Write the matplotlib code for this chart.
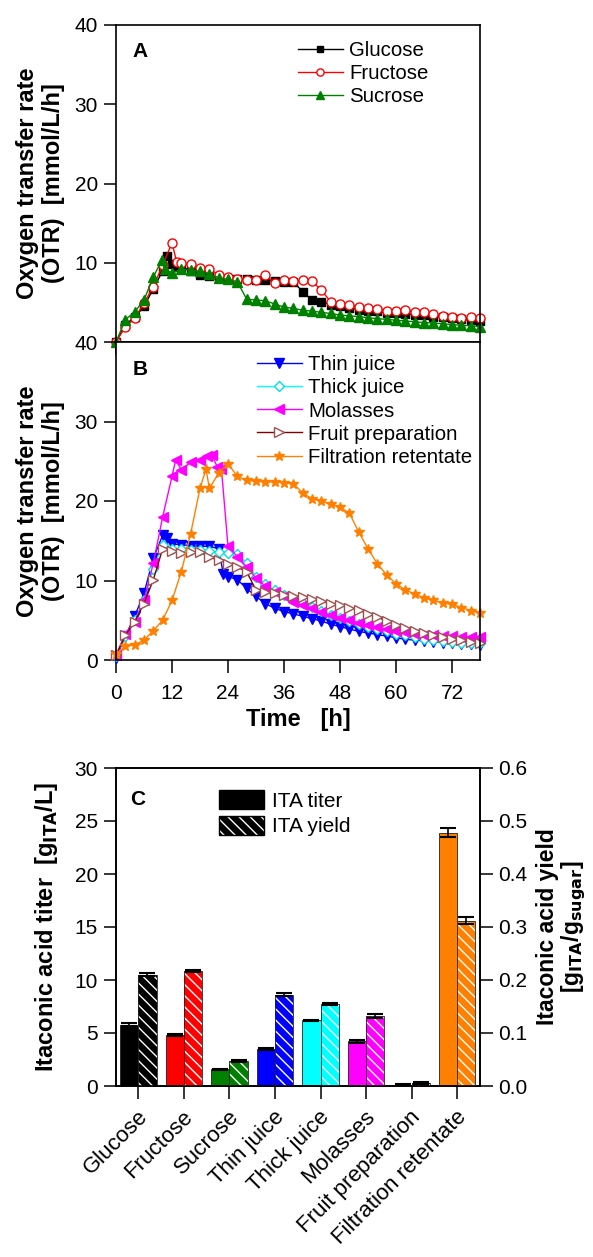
import numpy as np
import matplotlib
matplotlib.use("Agg")
import matplotlib.pyplot as plt
import matplotlib.transforms as mtransforms
from matplotlib.patches import Patch

plt.rcParams['font.family'] = ['Liberation Sans', 'DejaVu Sans']
plt.rcParams['hatch.linewidth'] = 1.0

# ----------------------------
# Panel A data (OTR, mmol/L/h)
# ----------------------------
t_glu = [0, 2, 4, 6, 8, 10, 11, 12, 13, 14, 16, 18, 20, 22, 24, 26, 28, 30, 32, 34, 36, 38,
         40, 42, 44, 46, 48, 50, 52, 54, 56, 58, 60, 62, 64, 66, 68, 70, 72, 74, 76, 78]
otr_glu = [0, 2.2, 3.1, 4.5, 6.7, 9.0, 10.8, 9.8, 9.5, 9.5, 9.0, 8.5, 8.3, 8.1, 8.0, 7.9, 7.9, 7.8,
           7.8, 7.7, 7.6, 7.6, 6.35, 5.3, 5.1, 4.7, 4.5, 4.3, 4.1, 3.95, 3.85, 3.7, 3.6, 3.5, 3.45,
           3.35, 3.2, 3.1, 3.0, 2.85, 2.75, 2.7]

t_fru = [0, 2, 4, 6, 8, 10, 12, 13, 14, 16, 18, 20, 22, 24, 26, 28, 30, 32, 34, 36, 38, 40,
         42, 44, 46, 48, 50, 52, 54, 56, 58, 60, 62, 64, 66, 68, 70, 72, 74, 76, 78]
otr_fru = [0, 1.9, 3.0, 4.9, 7.0, 9.7, 12.5, 10.1, 10.0, 9.8, 9.4, 9.2, 8.5, 8.2, 8.0, 7.8, 7.8,
           8.4, 7.5, 7.8, 7.7, 7.8, 7.7, 6.5, 5.1, 4.8, 4.67, 4.46, 4.25, 4.2, 3.97, 3.97, 4.04,
           3.83, 3.75, 3.49, 3.28, 3.2, 3.0, 3.1, 3.0]

t_suc = [0, 2, 4, 6, 8, 9.8, 10.4, 12, 14, 16, 18, 20, 22, 24, 26, 28, 30, 32, 34, 36, 38, 40,
         42, 44, 46, 48, 50, 52, 54, 56, 58, 60, 62, 64, 66, 68, 70, 72, 74, 76, 78]
otr_suc = [0, 2.8, 3.8, 5.3, 8.2, 10.3, 9.2, 8.7, 9.2, 9.1, 8.9, 8.6, 8.1, 7.9, 7.6, 5.4, 5.3,
           5.2, 4.8, 4.4, 4.25, 4.0, 3.9, 3.74, 3.6, 3.4, 3.3, 3.2, 3.05, 2.95, 2.85, 2.75, 2.65,
           2.55, 2.45, 2.4, 2.3, 2.2, 2.1, 2.05, 1.95]

# ----------------------------
# Panel B data (OTR, mmol/L/h)
# ----------------------------
t_thin = [0, 2, 4, 6, 8, 10, 11, 12, 14, 16, 18, 20, 22, 23, 24, 26, 28, 30, 32, 34, 36, 38,
          40, 42, 44, 46, 48, 50, 52, 54, 56, 58, 60, 62, 64, 66, 68, 70, 72, 74, 76, 78]
otr_thin = [0.2, 3.0, 5.5, 8.4, 12.8, 15.7, 15.3, 14.6, 14.5, 14.4, 14.3, 14.3, 14.0, 10.8, 10.5,
            10.1, 9.0, 8.0, 7.1, 6.5, 6.1, 5.8, 5.5, 5.2, 4.9, 4.5, 4.2, 3.9, 3.6, 3.4, 3.2, 3.0,
            2.8, 2.6, 2.5, 2.4, 2.3, 2.2, 2.1, 2.0, 2.0, 1.9]

t_thick = [0, 2, 4, 6, 8, 10, 12, 14, 16, 18, 20, 22, 24, 26, 28, 30, 32, 34, 36, 38,
           40, 42, 44, 46, 48, 50, 52, 54, 56, 58, 60, 62, 64, 66, 68, 70, 72, 74, 76, 78]
otr_thick = [0.5, 3.0, 5.0, 7.5, 11.5, 14.5, 14.0, 13.9, 13.8, 13.8, 13.7, 13.6, 13.5, 13.3,
             12.2, 10.5, 9.5, 8.8, 8.2, 7.7, 7.2, 6.7, 6.2, 5.7, 5.3, 4.9, 4.5, 4.2, 3.9, 3.6,
             3.3, 3.1, 2.9, 2.7, 2.5, 2.4, 2.3, 2.2, 2.2, 2.1]

t_mol = [0, 2, 4, 6, 8, 10, 12, 12.8, 14, 16, 18, 19.4, 20.5, 21.7, 22.6, 24, 26, 28, 30, 32,
         34, 36, 38, 40, 42, 44, 46, 48, 50, 52, 54, 56, 58, 60, 62, 64, 66, 68, 70, 72, 74, 76, 78]
otr_mol = [0.6, 3.3, 4.8, 7.5, 12.2, 18.0, 23.1, 25.2, 23.9, 24.9, 25.2, 25.6, 25.8, 24.3, 24.0,
           14.3, 13.0, 11.7, 10.3, 9.3, 8.6, 8.0, 7.3, 6.9, 6.5, 6.0, 5.6, 5.3, 5.0, 4.7, 4.4,
           4.1, 3.9, 3.7, 3.5, 3.3, 3.2, 3.1, 3.0, 3.0, 2.9, 2.9, 2.9]

t_fruit = [0, 2, 4, 6, 8, 10, 12, 14, 16, 18, 20, 22, 24, 26, 28, 30, 32, 34, 36, 38,
           40, 42, 44, 46, 48, 50, 52, 54, 56, 58, 60, 62, 64, 66, 68, 70, 72, 74, 76, 78]
otr_fruit = [0.6, 3.1, 4.8, 7.1, 10.1, 14.0, 13.7, 13.4, 13.6, 13.6, 12.9, 12.6, 12.1, 11.7,
             11.1, 8.8, 8.5, 8.4, 8.2, 8.1, 7.9, 7.7, 7.4, 7.1, 6.9, 6.6, 6.3, 5.8, 5.4, 4.9,
             4.4, 4.0, 3.7, 3.4, 3.1, 2.9, 2.7, 2.5, 2.3, 2.2]

t_filt = [0, 2, 4, 6, 8, 10, 12, 14, 16, 18, 19.3, 20, 22, 24, 26, 28, 30, 32, 34, 36, 38,
          40, 42, 44, 46, 48, 50, 52, 54, 56, 58, 60, 62, 64, 66, 68, 70, 72, 74, 76, 78]
otr_filt = [0.8, 1.7, 1.9, 2.5, 3.7, 5.0, 7.5, 11.1, 15.9, 21.6, 24.0, 21.6, 23.5, 24.7, 23.1,
            22.6, 22.5, 22.4, 22.4, 22.3, 22.2, 21.0, 20.3, 20.0, 19.6, 19.2, 18.5, 16.1, 14.0,
            12.1, 10.7, 9.6, 8.8, 8.3, 7.8, 7.5, 7.2, 7.0, 6.6, 6.2, 5.9]

# ----------------------------
# Panel C data
# ----------------------------
substrates = ["Glucose", "Fructose", "Sucrose", "Thin juice", "Thick juice",
              "Molasses", "Fruit preparation", "Filtration retentate"]
bar_colors = ["#000000", "#ff0000", "#008000", "#0000ff", "#00ffff",
              "#ff00ff", "#800000", "#ff8000"]
ita_titer = [5.8, 4.8, 1.6, 3.5, 6.2, 4.2, 0.1, 23.9]
ita_titer_err = [0.1, 0.1, 0.05, 0.1, 0.05, 0.1, 0.05, 0.4]
ita_yield = [0.21, 0.217, 0.047, 0.172, 0.154, 0.132, 0.006, 0.312]
ita_yield_err = [0.003, 0.002, 0.002, 0.003, 0.002, 0.004, 0.002, 0.007]

# ----------------------------
# Figure
# ----------------------------
fig = plt.figure(figsize=(5.93, 12.57), dpi=100)

W, H = 593.0, 1257.0


def frac(x0, y0, x1, y1):
    return [x0 / W, 1 - y1 / H, (x1 - x0) / W, (y1 - y0) / H]


axA = fig.add_axes(frac(116, 25, 480, 342))
axB = fig.add_axes(frac(116, 342, 480, 660))
axC = fig.add_axes(frac(116, 768, 480, 1086))

tick_fs = 15
leg_fs = 14.7
label_fs = 17
lw = 1.0
ms = 5.5

for ax in (axA, axB, axC):
    for sp in ax.spines.values():
        sp.set_linewidth(1.2)
    ax.tick_params(direction="out", length=9, width=1.1, labelsize=tick_fs, pad=4)

# ----------------------------
# Panel A
# ----------------------------
axA.plot(t_glu, otr_glu, color="black", lw=lw, marker="s", ms=ms,
         mfc="black", mec="black", label="Glucose", clip_on=False)
axA.plot(t_fru, otr_fru, color="red", lw=lw, marker="o", ms=ms + 1,
         mfc="white", mec="red", label="Fructose", clip_on=False)
axA.plot(t_suc, otr_suc, color="#008000", lw=lw, marker="^", ms=ms + 1,
         mfc="#008000", mec="#008000", label="Sucrose", clip_on=False)

axA.set_xlim(0, 78)
axA.set_ylim(0, 40)
axA.set_xticks([0, 12, 24, 36, 48, 60, 72])
axA.set_yticks([10, 20, 30, 40])
axA.tick_params(axis="x", labelbottom=False)
axA.text(0.045, 0.915, "A", transform=axA.transAxes, fontsize=15,
         fontweight="bold", va="center")
axA.legend(loc="upper left", bbox_to_anchor=(0.5, 0.95), frameon=False,
           fontsize=leg_fs, handlelength=2.2, handletextpad=0.3,
           labelspacing=0.2, borderaxespad=0, borderpad=0, markerscale=0.8)
axA.set_ylabel("Oxygen transfer rate\n(OTR)  [mmol/L/h]", fontsize=label_fs,
               fontweight="bold", linespacing=1.15)
axA.yaxis.set_label_coords(-0.14, 0.5)

# ----------------------------
# Panel B
# ----------------------------
axB.plot(t_thin, otr_thin, color="#0000ff", lw=lw, marker="v", ms=ms + 1,
         mfc="#0000ff", mec="#0000ff", label="Thin juice", clip_on=False)
axB.plot(t_thick, otr_thick, color="#00ffff", lw=lw, marker="D", ms=ms - 0.5,
         mfc="white", mec="#00e0e0", label="Thick juice", clip_on=False)
axB.plot(t_mol, otr_mol, color="#ff00ff", lw=lw, marker="<", ms=ms + 1,
         mfc="#ff00ff", mec="#ff00ff", label="Molasses", clip_on=False)
axB.plot(t_fruit, otr_fruit, color="#800000", lw=lw, marker=">", ms=ms + 1.5,
         mfc="white", mec="#a05050", label="Fruit preparation", clip_on=False)
axB.plot(t_filt, otr_filt, color="#ff8000", lw=lw, marker="*", ms=ms + 2,
         mfc="#ff8000", mec="#ff8000", label="Filtration retentate", clip_on=False)

axB.set_xlim(0, 78)
axB.set_ylim(0, 40)
axB.set_xticks([0, 12, 24, 36, 48, 60, 72])
axB.set_yticks([0, 10, 20, 30, 40])
axB.tick_params(axis="x", pad=8)
axB.text(0.045, 0.915, "B", transform=axB.transAxes, fontsize=15,
         fontweight="bold", va="center")
axB.legend(loc="upper left", bbox_to_anchor=(0.387, 0.958), frameon=False,
           fontsize=leg_fs, handlelength=2.2, handletextpad=0.3,
           labelspacing=0.2, borderaxespad=0, borderpad=0)
axB.set_ylabel("Oxygen transfer rate\n(OTR)  [mmol/L/h]", fontsize=label_fs,
               fontweight="bold", linespacing=1.15)
axB.yaxis.set_label_coords(-0.14, 0.5)
axB.set_xlabel("Time   [h]", fontsize=label_fs, fontweight="bold")
axB.xaxis.set_label_coords(0.5, -0.152)
axB.xaxis.label.set_va("top")

# ----------------------------
# Panel C
# ----------------------------
x = np.arange(len(substrates))
bw = 0.4

axC.bar(x - bw / 2, ita_titer, width=bw, color=bar_colors, edgecolor="#202020",
        linewidth=0.6, zorder=2)
axC.errorbar(x - bw / 2, ita_titer, yerr=ita_titer_err, fmt="none", ecolor="black",
             elinewidth=1.2, capsize=6, capthick=1.5, zorder=3)

axC2 = axC.twinx()
axC2.bar(x + bw / 2, ita_yield, width=bw, color=bar_colors, edgecolor="white",
         linewidth=0, hatch="\\\\\\", zorder=2)
axC2.bar(x + bw / 2, ita_yield, width=bw, fill=False, edgecolor="#202020",
         linewidth=0.6, zorder=3)
axC2.errorbar(x + bw / 2, ita_yield, yerr=ita_yield_err, fmt="none", ecolor="black",
              elinewidth=1.2, capsize=6, capthick=1.5, zorder=4)

axC.set_xlim(-0.49, 7.5)
axC.set_ylim(0, 30)
axC.set_yticks([0, 5, 10, 15, 20, 25, 30])
axC2.set_ylim(0, 0.6)
axC2.set_yticks([0.0, 0.1, 0.2, 0.3, 0.4, 0.5, 0.6])
axC2.set_yticklabels(["0.0", "0.1", "0.2", "0.3", "0.4", "0.5", "0.6"])
for sp in axC2.spines.values():
    sp.set_linewidth(1.2)
axC2.tick_params(direction="out", length=9, width=1.1, labelsize=tick_fs, pad=4)

axC.set_xticks(x)
axC.set_xticklabels(substrates, rotation=45, ha="right", va="center",
                    rotation_mode="anchor", fontsize=16)
axC.tick_params(axis="x", pad=11)
shift = mtransforms.ScaledTranslation(6 / 100, 0, fig.dpi_scale_trans)
for lab in axC.get_xticklabels():
    lab.set_transform(lab.get_transform() + shift)

axC.text(0.04, 0.9, "C", transform=axC.transAxes, fontsize=15,
         fontweight="bold", va="center")

titer_handle = Patch(facecolor="black", edgecolor="black")
yield_handle = (Patch(facecolor="black", edgecolor="white", hatch="\\\\\\", linewidth=0),
                Patch(fill=False, edgecolor="black"))
axC.legend([titer_handle, yield_handle], ["ITA titer", "ITA yield"], loc="upper left",
           bbox_to_anchor=(0.282, 0.93), frameon=False, fontsize=tick_fs,
           handlelength=2.2, handleheight=1.0, handletextpad=0.35, labelspacing=0.25,
           borderaxespad=0, borderpad=0)

axC.set_ylabel("Itaconic acid titer  [g$_{\\mathbf{ITA}}$/L]", fontsize=label_fs,
               fontweight="bold")
axC.yaxis.set_label_coords(-0.154, 0.5)
axC2.set_ylabel("Itaconic acid yield\n[g$_{\\mathbf{ITA}}$/g$_{\\mathbf{sugar}}$]",
                fontsize=16.5, fontweight="bold", linespacing=1.0)
axC2.yaxis.set_label_coords(1.155, 0.5)

fig.savefig("out.png", dpi=100)
